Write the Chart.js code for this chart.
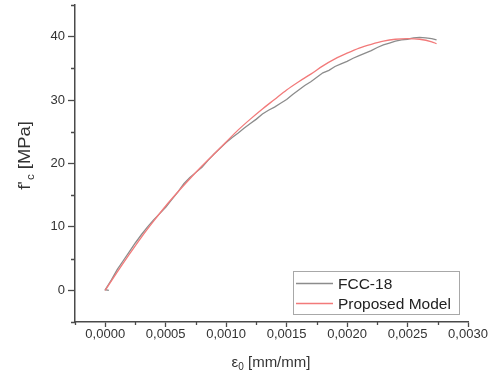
<!DOCTYPE html>
<html>
<head>
<meta charset="utf-8">
<script src="https://cdn.jsdelivr.net/npm/chart.js@4.4.1/dist/chart.umd.min.js"></script>
<style>
  html, body { margin: 0; padding: 0; background: #fff; }
  #wrap { width: 495px; height: 383px; }
</style>
</head>
<body>
<div id="wrap"><canvas id="c" width="495" height="383"></canvas></div>
<script>
// Test curve FCC-18: strain [mm/mm] and stress [MPa]
const testStrain = [0.00003, 0, 0.00005, 0.00010, 0.00015, 0.00020, 0.00025, 0.00030, 0.00035, 0.00040,
  0.00045, 0.00050, 0.00055, 0.00060, 0.00065, 0.00070, 0.00075, 0.00080, 0.00085, 0.00090,
  0.00095, 0.00100, 0.00105, 0.00110, 0.00115, 0.00120, 0.00125, 0.00130, 0.00135, 0.00140,
  0.00145, 0.00150, 0.00155, 0.00160, 0.00165, 0.00170, 0.00175, 0.00180, 0.00185, 0.00190,
  0.00195, 0.00200, 0.00205, 0.00210, 0.00215, 0.00220, 0.00225, 0.00230, 0.00235, 0.00240,
  0.00245, 0.00250, 0.00255, 0.00260, 0.00265, 0.00270, 0.00274];
const testStress = [0.0, 0.1, 1.6, 3.3, 4.7, 6.1, 7.5, 8.8, 10.0, 11.1,
  12.1, 13.1, 14.3, 15.5, 16.8, 17.8, 18.6, 19.4, 20.5, 21.5,
  22.4, 23.3, 24.1, 24.8, 25.6, 26.3, 27.0, 27.8, 28.4, 28.9,
  29.5, 30.1, 30.9, 31.6, 32.3, 32.9, 33.6, 34.3, 34.7, 35.3,
  35.7, 36.1, 36.6, 37.0, 37.4, 37.8, 38.3, 38.7, 39.0, 39.3,
  39.5, 39.6, 39.8, 39.9, 39.8, 39.7, 39.5];

// Proposed model curve
const modelStrain = [0, 0.0001, 0.0002, 0.0003, 0.0004, 0.0005, 0.0006, 0.0007, 0.0008, 0.0009,
  0.0010, 0.0011, 0.0012, 0.0013, 0.0014, 0.0015, 0.0016, 0.0017, 0.0018, 0.0019,
  0.0020, 0.0021, 0.0022, 0.0023, 0.0024, 0.0025, 0.0026, 0.0027, 0.00274];
const modelStress = [0, 2.9, 5.7, 8.4, 10.9, 13.3, 15.5, 17.6, 19.6, 21.5,
  23.4, 25.3, 27.0, 28.6, 30.1, 31.6, 32.9, 34.1, 35.4, 36.5,
  37.4, 38.2, 38.8, 39.3, 39.6, 39.7, 39.6, 39.2, 38.9];

// Axis ticks
const xMajorTicks = [0, 0.0005, 0.0010, 0.0015, 0.0020, 0.0025, 0.0030];
const xMinorTicks = [-0.00025, 0.00025, 0.00075, 0.00125, 0.00175, 0.00225, 0.00275];
const yMajorTicks = [0, 10, 20, 30, 40];
const yMinorTicks = [-5, 5, 15, 25, 35, 45];

const seriesNames = ['FCC-18', 'Proposed Model'];

const pairs = (xs, ys) => xs.map((x, i) => ({ x: x, y: ys[i] }));

const AXIS_COLOR = '#4a4a4a';
const TEXT_COLOR = '#333333';
const FONT = '"Liberation Sans", Arial, sans-serif';

// Minor ticks, axis titles and an in-plot legend
const decorations = {
  id: 'decorations',
  afterDraw(chart) {
    const ctx = chart.ctx;
    const xs = chart.scales.x, ys = chart.scales.y;
    const area = chart.chartArea;
    ctx.save();
    ctx.strokeStyle = AXIS_COLOR;
    ctx.lineWidth = 1.3;
    ctx.beginPath();
    xMinorTicks.forEach(v => {
      const px = Math.round(xs.getPixelForValue(v)) + 0.5;
      ctx.moveTo(px, area.bottom);
      ctx.lineTo(px, area.bottom + 3);
    });
    yMinorTicks.forEach(v => {
      const py = Math.round(ys.getPixelForValue(v)) + 0.5;
      ctx.moveTo(area.left, py);
      ctx.lineTo(area.left - 4, py);
    });
    ctx.stroke();

    // x-axis title: ε0 [mm/mm]
    ctx.fillStyle = TEXT_COLOR;
    ctx.textBaseline = 'alphabetic';
    ctx.textAlign = 'left';
    const big = '15px ' + FONT, small = '10px ' + FONT;
    ctx.font = big; const wE = ctx.measureText('ε').width;
    ctx.font = small; const w0 = ctx.measureText('0').width;
    ctx.font = big; const wR = ctx.measureText(' [mm/mm]').width;
    let x0 = 271 - (wE + w0 + wR) / 2;
    const yb = 367;
    ctx.font = big; ctx.fillText('ε', x0, yb);
    ctx.font = small; ctx.fillText('0', x0 + wE, yb + 3);
    ctx.font = big; ctx.fillText(' [mm/mm]', x0 + wE + w0, yb);

    // y-axis title: f'c [MPa], rotated
    ctx.save();
    ctx.translate(30, 156);
    ctx.rotate(-Math.PI / 2);
    ctx.scale(1.15, 1);
    const yBig = '16px ' + FONT, ySmall = '10px ' + FONT;
    ctx.font = yBig; const wf = ctx.measureText("f'").width;
    ctx.font = ySmall; const wc = ctx.measureText('c').width;
    ctx.font = yBig; const wm = ctx.measureText(' [MPa]').width;
    let s = -(wf + wc + wm) / 2;
    ctx.font = yBig; ctx.fillText("f'", s, 0);
    ctx.font = ySmall; ctx.fillText('c', s + wf + 1, 4);
    ctx.font = yBig; ctx.fillText(' [MPa]', s + wf + wc + 1, 0);
    ctx.restore();

    // Legend box
    ctx.strokeStyle = '#a8a8a8';
    ctx.lineWidth = 1;
    ctx.strokeRect(293.5, 271.5, 166, 43);
    ctx.font = '15.5px ' + FONT;
    ctx.textBaseline = 'middle';
    chart.data.datasets.forEach((ds, i) => {
      const ly = 283.5 + i * 20;
      ctx.strokeStyle = ds.borderColor;
      ctx.lineWidth = ds.borderWidth;
      ctx.beginPath();
      ctx.moveTo(296, ly);
      ctx.lineTo(333, ly);
      ctx.stroke();
      ctx.fillStyle = '#222';
      ctx.fillText(ds.label, 338, ly + 1);
    });
    ctx.restore();
  }
};

new Chart(document.getElementById('c'), {
  type: 'scatter',
  data: {
    datasets: [
      {
        label: seriesNames[0],
        data: pairs(testStrain, testStress),
        showLine: true,
        borderColor: '#8c8c8c',
        borderWidth: 1.3,
        pointRadius: 0,
        tension: 0,
        order: 1
      },
      {
        label: seriesNames[1],
        data: pairs(modelStrain, modelStress),
        showLine: true,
        borderColor: '#f27a7a',
        borderWidth: 1.3,
        pointRadius: 0,
        cubicInterpolationMode: 'monotone',
        order: 0
      }
    ]
  },
  options: {
    responsive: false,
    animation: false,
    events: [],
    layout: { padding: { top: 5, right: 27, left: 0, bottom: 0 } },
    plugins: { legend: { display: false }, tooltip: { enabled: false } },
    scales: {
      x: {
        type: 'linear',
        min: -0.00025,
        max: 0.003,
        afterBuildTicks: s => { s.ticks = xMajorTicks.map(v => ({ value: v })); },
        afterFit: s => { s.height = 61; s.paddingLeft = 0; s.paddingRight = 0; },
        grid: { display: true, drawOnChartArea: false, drawTicks: true, tickLength: 5, tickColor: AXIS_COLOR, tickWidth: 1.3 },
        border: { display: true, color: AXIS_COLOR, width: 1.5 },
        ticks: {
          padding: 0,
          maxRotation: 0,
          autoSkip: false,
          color: TEXT_COLOR,
          font: { family: FONT, size: 13 },
          callback: v => v.toFixed(4).replace('.', ',')
        },
        title: { display: false }
      },
      y: {
        type: 'linear',
        min: -5,
        max: 45,
        afterBuildTicks: s => { s.ticks = yMajorTicks.map(v => ({ value: v })); },
        afterFit: s => { s.width = 75; s.paddingTop = 0; s.paddingBottom = 0; },
        grid: { display: true, drawOnChartArea: false, drawTicks: true, tickLength: 7, tickColor: AXIS_COLOR, tickWidth: 1.3 },
        border: { display: true, color: AXIS_COLOR, width: 1.5 },
        ticks: {
          padding: 3,
          autoSkip: false,
          color: TEXT_COLOR,
          font: { family: FONT, size: 13 },
          callback: v => String(v)
        },
        title: { display: false }
      }
    }
  },
  plugins: [decorations]
});
</script>
</body>
</html>
